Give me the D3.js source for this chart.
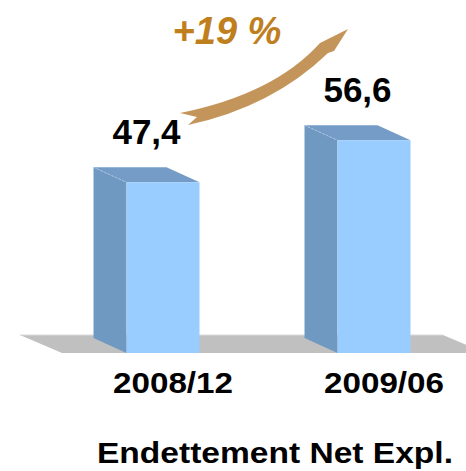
<!DOCTYPE html>
<html>
<head>
<meta charset="utf-8">
<script src="https://cdn.jsdelivr.net/npm/d3@7"></script>
<style>
  body { margin: 0; background: #fff; }
  text { font-family: "Liberation Sans", Arial, sans-serif; font-weight: bold; }
</style>
</head>
<body>
<div id="chart"></div>
<script>
// Endettement Net Expl. - two 3D bars with growth arrow

const categories = ['2008/12', '2009/06'];
const values = [47.4, 56.6];
const valueLabels = ['47,4', '56,6'];
const growthLabel = '+19 %';
const title = 'Endettement Net Expl.';

const width = 466;
const height = 471;

// layout
const base = 353;          // front bottom of bars
const barW = 73;
const depthX = -33, depthY = -15;

const svg = d3.select('#chart')
    .append('svg')
    .attr('width', width)
    .attr('height', height);

const x = d3.scalePoint()
    .domain(categories)
    .range([163, 374]);

const y = d3.scaleLinear()
    .domain([10, 60])
    .range([base, base - 4.565 * 50]);

// Floor
const floorL = x(categories[0]) - 101;
const floorR = x(categories[1]) + 111;
svg.append('polygon')
    .attr('points', [
        [floorL, base], [floorR, base],
        [floorR - 42, base - 18], [floorL - 42, base - 18]
    ].map(p => p.join(',')).join(' '))
    .style('fill', '#C0C0C0');
svg.append('line')
    .attr('x1', floorL - 42).attr('x2', floorR - 42)
    .attr('y1', base - 18).attr('y2', base - 18)
    .style('stroke', '#DADADA')
    .style('stroke-width', 1);

// Bars
const bars = svg.append('g')
    .selectAll('g')
    .data(categories.map((c, i) => ({ c, v: values[i], label: valueLabels[i] })))
    .enter().append('g');

bars.each(function(d) {
    const g = d3.select(this);
    const xl = x(d.c) - barW / 2;
    const xr = xl + barW;
    const yt = y(d.v);

    // side face
    g.append('polygon')
        .attr('points', [[xl, yt], [xl + depthX, yt + depthY], [xl + depthX, base + depthY], [xl, base]]
            .map(p => p.join(',')).join(' '))
        .style('fill', '#7099C2');

    // top face
    g.append('polygon')
        .attr('points', [[xl, yt], [xr, yt], [xr + depthX, yt + depthY], [xl + depthX, yt + depthY]]
            .map(p => p.join(',')).join(' '))
        .style('fill', '#749CC6');

    // faint back edge
    g.append('line')
        .attr('x1', xl + depthX).attr('y1', yt + depthY)
        .attr('x2', xl).attr('y2', yt)
        .style('stroke', '#A8C6E4')
        .style('stroke-width', 1)
        .style('stroke-dasharray', '2,2');

    // front face
    g.append('rect')
        .attr('x', xl)
        .attr('y', yt)
        .attr('width', barW)
        .attr('height', base - yt)
        .style('fill', '#99CCFF');

    // value label
    g.append('text')
        .attr('x', x(d.c) + depthX / 2)
        .attr('y', yt - 38)
        .attr('text-anchor', 'middle')
        .style('font-size', '35px')
        .style('fill', '#000')
        .text(d.label);

    // category label
    g.append('text')
        .attr('x', x(d.c) + 10)
        .attr('y', 393)
        .attr('text-anchor', 'middle')
        .attr('textLength', 120)
        .attr('lengthAdjust', 'spacingAndGlyphs')
        .style('font-size', '29px')
        .style('fill', '#000')
        .text(d.c);
});

// Growth arrow
const arrow = d3.path();
arrow.moveTo(180, 113);
arrow.quadraticCurveTo(274, 94, 320, 43);
arrow.lineTo(348, 29);
arrow.lineTo(334, 51);
arrow.lineTo(328, 53);
arrow.quadraticCurveTo(272, 107, 188, 125);
arrow.lineTo(197, 117);
arrow.closePath();

svg.append('path')
    .attr('d', arrow.toString())
    .style('fill', '#C4955A');

svg.append('text')
    .attr('x', 227)
    .attr('y', 44)
    .attr('text-anchor', 'middle')
    .style('font-size', '38px')
    .style('font-style', 'italic')
    .style('fill', '#C07F1F')
    .text(growthLabel);

// Title
svg.append('text')
    .attr('x', 275)
    .attr('y', 463)
    .attr('text-anchor', 'middle')
    .attr('textLength', 356)
    .attr('lengthAdjust', 'spacingAndGlyphs')
    .style('font-size', '29px')
    .style('fill', '#000')
    .text(title);
</script>
</body>
</html>
